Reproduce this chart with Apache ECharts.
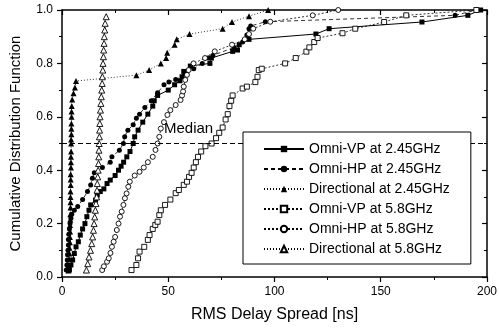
<!DOCTYPE html>
<html>
<head>
<meta charset="utf-8">
<script src="https://cdn.jsdelivr.net/npm/echarts@6/dist/echarts.min.js"></script>
<style>html,body{margin:0;padding:0;background:#fff}#c{width:500px;height:331px}</style>
</head>
<body>
<div id="c"></div>
<script>
// [RMS delay spread (ns), cumulative probability]
const omniVP245 = [[3.5,0.026],[4.2,0.045],[5,0.064],[5.8,0.088],[6.6,0.113],[7.7,0.132],[8.6,0.157],[9.7,0.18],[10.8,0.2],[11.7,0.226],[12.7,0.25],[13.5,0.27],[15.8,0.288],[16.6,0.307],[18,0.32],[19.7,0.33],[21.2,0.35],[22.7,0.363],[25,0.38],[26.6,0.40],[27.8,0.415],[29,0.43],[30.5,0.45],[32,0.47],[33.5,0.50],[34.2,0.525],[35.8,0.55],[38,0.58],[40.4,0.61],[42.7,0.64],[43.4,0.66],[45,0.68],[50,0.70],[53,0.72],[55.5,0.735],[56.5,0.75],[57.3,0.77],[60.4,0.79],[69.6,0.80],[70.3,0.82],[80.3,0.845],[82.6,0.85],[83.4,0.87],[88,0.89],[119.5,0.91],[125.7,0.93],[169.4,0.955],[191,0.98],[197,1.0]];
const omniHP245 = [[2.0,0.026],[2.3,0.045],[2.5,0.064],[2.6,0.083],[2.8,0.10],[3.0,0.12],[3.0,0.14],[3.2,0.16],[3.5,0.18],[3.8,0.20],[4.2,0.22],[4.6,0.235],[5.8,0.25],[7.4,0.264],[9.7,0.29],[12,0.32],[13.5,0.345],[14.3,0.37],[15.2,0.39],[19,0.41],[22.7,0.43],[23.5,0.45],[27,0.475],[28.9,0.50],[29.5,0.525],[31,0.55],[33.5,0.57],[35,0.595],[36.5,0.61],[39,0.635],[42,0.66],[45,0.69],[48,0.72],[50.3,0.73],[53.5,0.74],[58,0.76],[62,0.78],[66,0.80],[68.7,0.82],[71,0.83],[81,0.86],[85,0.88],[87,0.906],[88,0.93],[88.8,0.94],[95.7,0.956],[185,0.98],[195,1.0]];
const dir245 = [[3.0,0.024],[3.2,0.045],[3.3,0.067],[3.5,0.088],[3.5,0.11],[3.7,0.13],[3.7,0.15],[3.8,0.17],[3.8,0.195],[3.9,0.215],[3.9,0.235],[4.0,0.26],[4.0,0.28],[4.0,0.30],[4.0,0.32],[4.1,0.345],[4.1,0.365],[4.1,0.385],[4.2,0.41],[4.2,0.43],[4.2,0.45],[4.3,0.47],[4.3,0.50],[4.3,0.515],[4.4,0.535],[4.4,0.555],[4.4,0.575],[4.5,0.60],[4.5,0.62],[4.6,0.64],[4.8,0.665],[5.4,0.688],[6.1,0.71],[6.6,0.734],[35,0.756],[41,0.775],[46.5,0.80],[49,0.82],[49.5,0.84],[53,0.87],[54,0.89],[60,0.91],[75.6,0.93],[80,0.955],[88,0.977],[97,1.0]];
const omniVP58 = [[32.7,0.026],[35,0.045],[35.8,0.07],[36.5,0.095],[38.7,0.113],[40.4,0.139],[41.2,0.157],[42.7,0.18],[43.9,0.195],[45,0.207],[45.8,0.232],[46.5,0.25],[48.5,0.27],[51,0.29],[53.5,0.314],[55,0.326],[57.3,0.345],[58.8,0.357],[59.8,0.375],[61,0.39],[62,0.41],[63,0.43],[64,0.45],[65.5,0.47],[67.5,0.49],[70.4,0.50],[72.5,0.52],[74,0.54],[75.6,0.56],[77,0.59],[78,0.61],[78.8,0.64],[79.6,0.66],[80.3,0.68],[85,0.706],[87,0.713],[91,0.73],[92,0.75],[92.6,0.775],[94,0.78],[105,0.80],[110,0.82],[115,0.844],[116.4,0.86],[118.7,0.88],[120.3,0.895],[132,0.913],[138,0.93],[151.6,0.955],[162,0.98],[195,1.0]];
const omniHP58 = [[18.9,0.026],[19.7,0.04],[21.2,0.057],[22,0.07],[22.8,0.09],[23.5,0.113],[24.3,0.132],[25,0.15],[25.8,0.176],[26.6,0.2],[27.3,0.226],[28.1,0.245],[28.9,0.27],[29.6,0.295],[30.4,0.313],[31.2,0.338],[31.9,0.357],[34.2,0.38],[36.5,0.394],[38.5,0.41],[40.4,0.43],[42.7,0.45],[44,0.476],[45,0.5],[45.8,0.525],[46.5,0.556],[48,0.58],[49.6,0.607],[51,0.625],[53.5,0.644],[55.8,0.663],[56.5,0.68],[57,0.695],[57.3,0.713],[58,0.738],[58.8,0.757],[59.6,0.775],[61.9,0.80],[67.3,0.82],[71.9,0.845],[80,0.87],[86,0.89],[88,0.91],[90,0.93],[98,0.956],[118,0.98],[130,1.0]];
const dir58 = [[11.5,0.026],[12.1,0.05],[12.7,0.075],[13.4,0.1],[14.0,0.125],[14.4,0.15],[14.8,0.175],[15.1,0.2],[15.4,0.225],[15.7,0.25],[16.0,0.275],[16.3,0.3],[16.5,0.325],[16.6,0.35],[16.8,0.375],[17.0,0.4],[17.2,0.425],[17.3,0.45],[17.4,0.475],[17.5,0.5],[17.6,0.525],[17.7,0.55],[17.8,0.575],[17.9,0.6],[18.1,0.625],[18.3,0.65],[18.5,0.675],[18.7,0.7],[18.9,0.725],[19.0,0.75],[19.2,0.775],[19.3,0.8],[19.5,0.825],[19.6,0.85],[19.8,0.875],[19.9,0.9],[20.1,0.925],[20.3,0.95],[20.8,0.975]];

const seriesNames = ['Omni-VP at 2.45GHz','Omni-HP at 2.45GHz','Directional at 2.45GHz','Omni-VP at 5.8GHz','Omni-HP at 5.8GHz','Directional at 5.8GHz'];
const xTicks = {min:0, max:200, interval:50};
const yTicks = {min:0, max:1, interval:0.2};
const medianValue = 0.5;
const medianLabelX = 48;

const FONT = 'Liberation Sans, Arial, sans-serif';
const chart = echarts.init(document.getElementById('c'), null, {renderer:'canvas'});

function mk(name, data, symbol, filled, size, dash, width){
  return {
    name, type:'line', data, symbol, symbolSize:size, showAllSymbol:true,
    xAxisIndex:0, yAxisIndex:0,
    lineStyle:{color:'#000', width:width||0.8, type:dash},
    itemStyle: filled ? {color:'#000', borderColor:'#000', borderWidth:0}
                      : {color:'#fff', borderColor:'#000', borderWidth:0.9},
    emphasis:{disabled:true}, z:3
  };
}

const s = [
  mk(seriesNames[0], omniVP245, 'rect', true, 5, 'solid', 1),
  mk(seriesNames[1], omniHP245, 'circle', true, 5, [4,3]),
  mk(seriesNames[2], dir245, 'triangle', true, 6, [1,2]),
  mk(seriesNames[3], omniVP58, 'rect', false, 5, [2,2]),
  mk(seriesNames[4], omniHP58, 'circle', false, 5, [2,2]),
  mk(seriesNames[5], dir58, 'triangle', false, 6, [1,2])
];
s[0].markLine = {
  symbol:'none', silent:true, animation:false,
  lineStyle:{color:'#000', width:1, type:[5,3]},
  label:{show:false},
  data:[[{coord:[xTicks.min, medianValue]},{coord:[xTicks.max, medianValue]}]]
};
s[0].markPoint = {
  symbol:'rect', symbolSize:0, silent:true, animation:false,
  label:{show:true, formatter:'Median', position:'right', distance:0, offset:[0,-15],
         color:'#000', fontSize:15, fontFamily:FONT},
  data:[{coord:[medianLabelX, medianValue]}]
};

const axisCommon = {
  axisLine:{show:true, onZero:false, lineStyle:{color:'#000', width:1.5}},
  splitLine:{show:false}
};

chart.setOption({
  animation:false,
  backgroundColor:'#fff',
  grid:{left:59, right:7, top:10, bottom:54, containLabel:false},
  xAxis:[
    Object.assign({type:'value', position:'bottom', min:xTicks.min, max:xTicks.max, interval:xTicks.interval,
      name:'RMS Delay Spread [ns]', nameLocation:'middle', nameGap:30,
      nameTextStyle:{color:'#000', fontSize:16, fontFamily:FONT},
      axisTick:{show:true, inside:false, length:5, lineStyle:{color:'#000', width:1.2}},
      minorTick:{show:true, splitNumber:2, length:3, lineStyle:{color:'#000', width:1}},
      axisLabel:{color:'#000', fontSize:12, fontFamily:FONT, margin:9}
    }, axisCommon),
    Object.assign({type:'value', position:'top', min:xTicks.min, max:xTicks.max, interval:xTicks.interval,
      axisTick:{show:true, inside:true, length:5, lineStyle:{color:'#000', width:1.2}},
      minorTick:{show:true, splitNumber:2, length:3, lineStyle:{color:'#000', width:1}},
      axisLabel:{show:false}
    }, axisCommon)
  ],
  yAxis:[
    Object.assign({type:'value', position:'left', min:yTicks.min, max:yTicks.max, interval:yTicks.interval,
      name:'Cumulative Distribution Function', nameLocation:'middle', nameGap:39,
      nameTextStyle:{color:'#000', fontSize:15, fontFamily:FONT},
      axisTick:{show:true, inside:false, length:5, lineStyle:{color:'#000', width:1.2}},
      minorTick:{show:true, splitNumber:2, length:3, lineStyle:{color:'#000', width:1}},
      axisLabel:{color:'#000', fontSize:12, fontFamily:FONT, margin:9, formatter:v=>v.toFixed(1)}
    }, axisCommon),
    Object.assign({type:'value', position:'right', min:yTicks.min, max:yTicks.max, interval:yTicks.interval,
      axisTick:{show:true, inside:true, length:5, lineStyle:{color:'#000', width:1.2}},
      minorTick:{show:true, splitNumber:2, length:3, lineStyle:{color:'#000', width:1}},
      axisLabel:{show:false}
    }, axisCommon)
  ],
  legend:{
    show:true, orient:'vertical', left:243, top:132,
    data:seriesNames,
    backgroundColor:'#fff', borderColor:'#000', borderWidth:1,
    padding:[10,21,8,20], itemWidth:40, itemHeight:8, itemGap:6,
    selectedMode:false,
    textStyle:{color:'#000', fontSize:14, fontFamily:FONT, lineHeight:14},
    z:10
  },
  series:s
});
</script>
</body>
</html>
